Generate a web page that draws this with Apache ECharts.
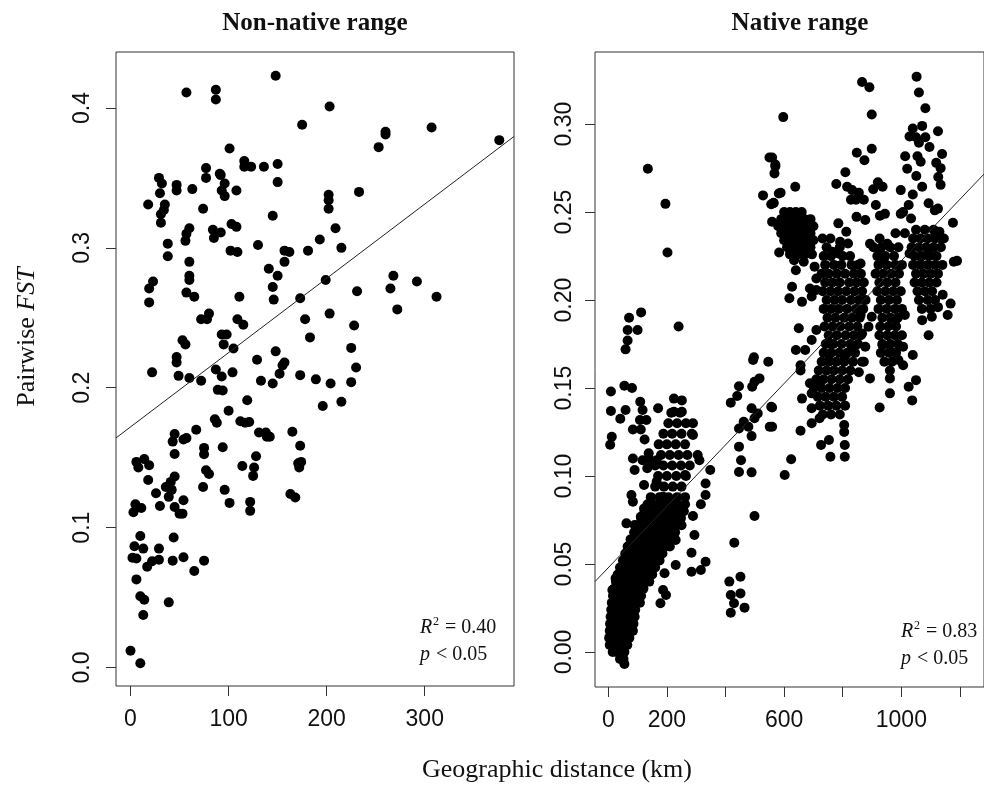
<!DOCTYPE html>
<html>
<head>
<meta charset="utf-8">
<script src="https://cdn.jsdelivr.net/npm/echarts@6/dist/echarts.min.js"></script>
<style>html,body{margin:0;padding:0;background:#fff}#chart{width:984px;height:787px}</style>
</head>
<body>
<div id="chart"></div>
<script>
// ---------- DATA ----------
const panelTitles = ['Non-native range', 'Native range'];
const nonNativeXTicks = [0, 100, 200, 300];
const nonNativeYTicks = [0, 0.1, 0.2, 0.3, 0.4];
const nativeXTicks = [0, 200, 400, 600, 800, 1000, 1200];
const nativeXLabels = [0, 200, 600, 1000];
const nativeYTicks = [0, 0.05, 0.1, 0.15, 0.2, 0.25, 0.3];
const fitNonNative = [0.172, 0.000531];   // intercept, slope
const fitNative = [0.0479, 0.0001745];    // intercept, slope
const statsNonNative = ['0.40', '0.05'];
const statsNative = ['0.83', '0.05'];

const nonNative = [
[148,0.423],[57,0.411],[87,0.413],[87,0.406],[175,0.388],[101,0.371],[116,0.362],[116,0.358],[123,0.358],[136,0.358],
[150,0.360],[150,0.347],[77,0.357],[77,0.350],[91,0.353],[92,0.352],[96,0.346],[93,0.341],[96,0.337],[108,0.341],
[29,0.350],[32,0.346],[30,0.339],[35,0.331],[34,0.327],[31,0.324],[31,0.318],[18,0.331],[47,0.345],[47,0.341],
[63,0.342],[74,0.328],[145,0.323],[103,0.317],[108,0.315],[60,0.314],[57,0.310],[56,0.305],[84,0.313],[85,0.307],
[92,0.311],[130,0.302],[38,0.303],[38,0.294],[102,0.298],[109,0.297],[157,0.298],[162,0.297],[181,0.298],[60,0.290],
[157,0.290],[141,0.285],[150,0.280],[60,0.280],[60,0.277],[23,0.276],[19,0.271],[19,0.261],[145,0.272],[57,0.268],
[65,0.265],[146,0.263],[111,0.265],[173,0.264],[72,0.249],[80,0.253],[78,0.249],[109,0.249],[115,0.245],[178,0.249],
[183,0.236],[53,0.234],[56,0.231],[93,0.238],[98,0.238],[95,0.231],[105,0.228],[47,0.222],[47,0.218],[129,0.220],
[148,0.226],[157,0.218],[155,0.216],[22,0.211],
[203,0.401],[260,0.383],[260,0.381],[253,0.372],[307,0.386],[376,0.377],[202,0.338],[202,0.334],[202,0.328],[233,0.340],
[209,0.314],[193,0.306],[215,0.300],[199,0.277],[231,0.269],[268,0.280],[265,0.271],[292,0.276],[312,0.265],[272,0.256],
[203,0.253],[228,0.2445],[225,0.2285],[230,0.2145],
[49,0.2085],[60,0.207],[72,0.205],[87,0.213],[93,0.208],[104,0.211],[133,0.205],[145,0.203],[152,0.210],[173,0.209],
[89,0.1985],[94,0.198],[119,0.191],[100,0.1835],[86,0.1775],[88,0.175],[112,0.176],[117,0.175],[121,0.1755],[45,0.167],
[43,0.1615],[54,0.163],[57,0.164],[67,0.170],[131,0.168],[138,0.168],[139,0.165],[142,0.165],[165,0.1685],[173,0.1585],
[75,0.157],[75,0.1525],[94,0.1575],[45,0.1527],[128,0.151],[6,0.147],[14,0.149],[19,0.1446],[8,0.143],[114,0.144],
[126,0.143],[125,0.137],[171,0.146],[172,0.143],[77,0.141],[80,0.1384],[18,0.134],[45,0.1365],[41,0.1327],[36,0.129],
[42,0.127],[39,0.122],[26,0.1246],[74,0.129],[96,0.127],[54,0.1196],[45,0.1148],[50,0.110],[53,0.110],[30,0.1155],
[5,0.1167],[3,0.111],[11,0.114],[101,0.1177],[122,0.1184],[122,0.112],[163,0.124],[168,0.1215],[10,0.094],[4,0.0867],
[13,0.085],[2,0.0785],[6,0.078],[44,0.093],[29,0.085],[29,0.077],[22,0.076],[17,0.072],[43,0.0764],[54,0.0788],
[65,0.069],[75,0.0764],[6,0.063],[10,0.051],[14,0.0485],[39,0.0466],[13,0.0375],[0,0.012],[10,0.003],
[189,0.206],[204,0.203],[225,0.204],[196,0.187],[215,0.190],[174,0.147]
];

const nativeSparse = [
[135,0.2746],[195,0.2547],[202,0.227],[71,0.190],[112,0.193],[66,0.183],[100,0.183],[66,0.177],[59,0.172],[240,0.185],
[497,0.1675],[546,0.165],[550,0.281],[570,0.276],[567,0.272],[528,0.2595],[556,0.2545],[564,0.2553],[559,0.2445],[582,0.2606],
[583,0.227],[597,0.304],
[1052,0.327],[866,0.324],[891,0.321],[1060,0.318],[1082,0.309],[899,0.3055],[1039,0.2975],[1028,0.293],[1050,0.2925],[1071,0.299],
[1082,0.2925],[1060,0.2894],[1096,0.287],[1125,0.296],[848,0.2837],[874,0.2795],[899,0.286],[1013,0.2818],[1055,0.2818],[1066,0.2786],
[1020,0.2746],[1139,0.283],[1119,0.278],[1134,0.275],[1126,0.270],[1134,0.2655],[1051,0.2705],[809,0.2727],[778,0.266],[815,0.2644],
[832,0.2625],[855,0.261],[872,0.257],[845,0.257],[920,0.267],[936,0.2644],[904,0.263],[998,0.2625],[1039,0.260],[1071,0.2644],
[828,0.257],[913,0.254],[927,0.248],[944,0.249],[877,0.2455],[847,0.2473],[1006,0.250],[1025,0.254],[1033,0.2464],[998,0.249],
[1093,0.255],[1114,0.251],[1125,0.252],[1176,0.244],[638,0.2644],[588,0.261],[564,0.255],[570,0.277],[559,0.281],
[731,0.235],[758,0.235],[785,0.2436],[812,0.2388],[818,0.2322],[791,0.2331],[764,0.2275],[785,0.2265],[893,0.232],[926,0.235],
[952,0.232],[926,0.2284],[936,0.2237],[980,0.238],[1012,0.238],[1028,0.2265],[1066,0.2246],[1093,0.2284],[1114,0.236],[1130,0.2388],
[1145,0.235],[1179,0.2218],[1190,0.2223],[861,0.2208],
[618,0.201],[627,0.2076],[661,0.199],[694,0.202],[710,0.2057],[688,0.2066],[634,0.2227],[640,0.217],[667,0.2218],[704,0.219],
[710,0.2123],[1093,0.180],[1141,0.203],[1168,0.198],[1158,0.1915],[1125,0.196],[1104,0.1905],[1071,0.1886],[1012,0.1915],[980,0.1886],
[861,0.1915],[899,0.1905],[888,0.1848],[866,0.181],[877,0.1735],[650,0.184],[640,0.1716],[672,0.1716],[656,0.163],[694,0.1773],
[710,0.183],[753,0.1754],[753,0.166],[807,0.1678],[834,0.1716],[936,0.1744],[963,0.1706],[1006,0.1735],[1039,0.1688],[872,0.165],
[9,0.148],[55,0.1513],[81,0.150],[9,0.137],[59,0.1375],[41,0.1326],[12,0.1223],[6.5,0.1178],[109,0.1422],[117,0.1375],
[108,0.1318],[130,0.1318],[170,0.1385],[84,0.1265],[111,0.1265],[124,0.1208],[224,0.144],[251,0.143],[224,0.1365],[251,0.1365],
[84,0.110],[90,0.1034],[117,0.109],[138,0.1129],[143,0.109],[165,0.109],[133,0.1044],[289,0.130],[289,0.1233],[305,0.112],
[311,0.109],[348,0.1034],[262,0.1006],[332,0.0958],[332,0.0892],[316,0.084],[289,0.0773],[294,0.0665],[284,0.0564],[284,0.0456],
[316,0.0466],[332,0.0513],[122,0.0949],[79,0.0892],[84,0.0854],[122,0.0816],[111,0.0769],[62,0.0731],[90,0.0722],[111,0.0727],
[165,0.0968],[187,0.0882],[208,0.0825],[197,0.0712],[230,0.0636],[224,0.0712],[230,0.0494],[192,0.0447],[187,0.0352],[197,0.0324],
[178,0.0277],[46,0.0476],[25,0.0419],[14,0.0352],[55,-0.0068],[46,-0.0017],[413,0.040],[418,0.0324],[451,0.0428],[451,0.0333],
[429,0.0277],[418,0.0223],[465,0.0252],[430,0.0621],[499,0.0773],[446,0.1167],[453,0.109],[446,0.1023],[489,0.1021],[489,0.1227],
[418,0.1417],[446,0.151],[440,0.1455],[446,0.127],[462,0.1308],[478,0.128],[491,0.1507],[499,0.1536],[516,0.1555],[489,0.1385],
[510,0.1356],[499,0.1328],[556,0.1394],[551,0.128],[494,0.166],
[602,0.1006],[624,0.1095],[656,0.1257],[694,0.130],[726,0.1176],[753,0.1205],[758,0.111],[807,0.111],[807,0.1176],[805,0.125],
[805,0.129],[926,0.139],[961,0.147],[961,0.1555],[961,0.160],[1025,0.1507],[1037,0.143],[1050,0.1545],[1006,0.163],[990,0.166],
[893,0.1555],[855,0.159],[866,0.165],[661,0.144],[688,0.1527],[715,0.1536],[694,0.1385],[721,0.1328],[694,0.147],[559,0.139],
[559,0.128],[656,0.160]
];

// dense clusters of the native range, one row per y level: [y, [x, x, ...]]
const nativeDenseRows = [
[-0.004,[40,52]],
[0.000,[15,28,40,55]],
[0.004,[5,15,25,35,45,55,65]],
[0.008,[3,12,22,32,42,52,62,72]],
[0.012,[5,14,24,34,44,54,64,74,84]],
[0.016,[6,16,26,36,46,56,66,76,86]],
[0.020,[8,18,28,38,48,58,68,78,90]],
[0.024,[10,20,30,40,50,60,70,80,92]],
[0.028,[12,22,32,42,52,62,72,84,96,108]],
[0.032,[16,26,36,46,56,66,76,88,100,112]],
[0.036,[20,30,40,50,60,70,82,94,106,120]],
[0.040,[26,36,46,56,66,78,90,102,114,126,140]],
[0.044,[32,42,52,62,74,86,98,110,122,136,150]],
[0.048,[40,50,60,72,84,96,108,120,132,146,160]],
[0.052,[50,62,74,86,98,110,122,134,146,160,175]],
[0.056,[58,70,82,94,106,118,130,142,156,170,185]],
[0.060,[66,78,90,102,114,126,138,152,166,180,196,210]],
[0.064,[76,88,100,112,124,136,150,164,178,192,206,220]],
[0.068,[88,100,112,124,138,152,166,180,196,212,228]],
[0.072,[100,114,128,142,156,170,186,202,218,234,250]],
[0.076,[112,128,144,160,178,196,214,232,248]],
[0.080,[124,140,158,176,196,216,236,258]],
[0.084,[134,152,172,192,214,236,262]],
[0.088,[145,175,205,235,262]],
[0.094,[160,190,220,250]],
[0.100,[170,200,232,265]],
[0.106,[160,188,218,248,278]],
[0.112,[180,210,240,270]],
[0.118,[172,200,230,262]],
[0.124,[188,218,250,285]],
[0.130,[205,235,265]],
[0.136,[215,245]],
[0.250,[600,620,640,660]],
[0.246,[590,610,630,650,670,690]],
[0.242,[580,600,620,640,660,680,700]],
[0.238,[590,610,630,650,670,690]],
[0.234,[600,620,640,660,680,700]],
[0.230,[610,630,650,670,690]],
[0.226,[620,645,670,695]],
[0.230,[745,790]],
[0.225,[735,760,800,825]],
[0.220,[740,770,795,830,852]],
[0.215,[728,752,780,808,838,862]],
[0.210,[740,765,790,822,848,872]],
[0.205,[732,758,784,812,840,866]],
[0.200,[745,772,798,828,855,878]],
[0.195,[735,760,786,815,845,870]],
[0.190,[748,775,805,832,858]],
[0.185,[738,765,792,822,850]],
[0.180,[752,780,810,838,862]],
[0.175,[742,768,796,826,852]],
[0.170,[735,760,788,815,842]],
[0.165,[728,752,778,805,835]],
[0.160,[718,745,770,798,826]],
[0.155,[710,735,762,790,818]],
[0.150,[702,728,755,782,808]],
[0.145,[715,742,770,798]],
[0.140,[722,750,778,808]],
[0.135,[732,760,790]],
[0.230,[905,932,962,990]],
[0.225,[918,945,975]],
[0.220,[922,950,980,1002]],
[0.215,[912,938,965,992]],
[0.210,[925,952,980]],
[0.205,[918,945,972,998]],
[0.200,[930,958,985]],
[0.195,[922,950,978,1002]],
[0.190,[935,962,988]],
[0.185,[928,955,982]],
[0.180,[925,952,978,1002]],
[0.175,[935,962,988]],
[0.170,[930,958,982]],
[0.165,[942,968]],
[0.240,[1050,1080,1110]],
[0.235,[1040,1065,1090,1115,1135]],
[0.230,[1035,1060,1085,1110,1135]],
[0.225,[1045,1070,1095,1120]],
[0.220,[1040,1065,1090,1115,1140]],
[0.215,[1050,1075,1100,1125]],
[0.210,[1045,1070,1095,1120]],
[0.205,[1055,1080,1105]],
[0.200,[1060,1090,1115]],
[0.195,[1070,1100]]
];

const native = nativeSparse.concat(
  nativeDenseRows.flatMap(r => r[1].map(x => [x, r[0]]))
);

// ---------- CHART ----------
const SANS = 'Liberation Sans, Arial, sans-serif';
const SERIF = 'Liberation Serif, Times New Roman, serif';
const ranges = {
  nn: {xmin: -14.8, xmax: 391, ymin: -0.0132, ymax: 0.440},
  na: {xmin: -45.3, xmax: 1282, ymin: -0.0199, ymax: 0.341}
};
function fitLine(fit, r) {
  return [[r.xmin, fit[0] + fit[1] * r.xmin], [r.xmax, fit[0] + fit[1] * r.xmax]];
}
const tickStyle = {show: true, inside: false, length: 10, lineStyle: {color: '#333', width: 1}};
const labelBase = {fontFamily: SANS, fontSize: 23, color: '#111'};

function xAxis(idx, r, ticks, labels) {
  return {
    type: 'value', gridIndex: idx, min: r.xmin, max: r.xmax, position: 'bottom',
    axisLine: {show: false, onZero: false}, splitLine: {show: false},
    axisTick: Object.assign({customValues: ticks}, tickStyle),
    axisLabel: Object.assign({customValues: labels, margin: 22, formatter: v => String(Math.round(v))}, labelBase)
  };
}
function yAxis(idx, r, ticks, dec, margin) {
  return {
    type: 'value', gridIndex: idx, min: r.ymin, max: r.ymax, position: 'left',
    axisLine: {show: false, onZero: false}, splitLine: {show: false},
    axisTick: Object.assign({customValues: ticks}, tickStyle),
    axisLabel: Object.assign({customValues: ticks, rotate: 90, margin: margin,
      formatter: v => Number(v).toFixed(dec)}, labelBase)
  };
}

function statsText(x, y, r2, p) {
  return [
    {type: 'text', left: x, top: y - 12, style: {text: 'R', font: 'italic 20px ' + SERIF, fill: '#111'}},
    {type: 'text', left: x + 13, top: y - 14, style: {text: '2', font: '12px ' + SERIF, fill: '#111'}},
    {type: 'text', left: x + 20, top: y - 12, style: {text: ' = ' + r2, font: '20px ' + SERIF, fill: '#111'}},
    {type: 'text', left: x, top: y + 15, style: {text: 'p', font: 'italic 20px ' + SERIF, fill: '#111'}},
    {type: 'text', left: x + 11, top: y + 15, style: {text: ' < ' + p, font: '20px ' + SERIF, fill: '#111'}}
  ];
}

const chart = echarts.init(document.getElementById('chart'), null, {renderer: 'canvas'});
chart.setOption({
  animation: false,
  backgroundColor: '#fff',
  grid: [
    {left: 116, top: 52, width: 398, height: 634, show: true, borderColor: '#333', borderWidth: 1, backgroundColor: 'transparent', containLabel: false},
    {left: 595, top: 52, width: 410, height: 635, show: true, borderColor: '#333', borderWidth: 1, backgroundColor: 'transparent', containLabel: false}
  ],
  xAxis: [
    xAxis(0, ranges.nn, nonNativeXTicks, nonNativeXTicks),
    xAxis(1, ranges.na, nativeXTicks, nativeXLabels)
  ],
  yAxis: [
    yAxis(0, ranges.nn, nonNativeYTicks, 1, 22),
    yAxis(1, ranges.na, nativeYTicks, 2, 19)
  ],
  series: [
    {type: 'scatter', xAxisIndex: 0, yAxisIndex: 0, data: nonNative, symbol: 'circle', symbolSize: 10,
      itemStyle: {color: '#000', opacity: 1}, silent: true},
    {type: 'scatter', xAxisIndex: 1, yAxisIndex: 1, data: native, symbol: 'circle', symbolSize: 10,
      itemStyle: {color: '#000', opacity: 1}, silent: true},
    {type: 'line', xAxisIndex: 0, yAxisIndex: 0, data: fitLine(fitNonNative, ranges.nn), symbol: 'none',
      lineStyle: {color: '#222', width: 1}, z: 5, silent: true},
    {type: 'line', xAxisIndex: 1, yAxisIndex: 1, data: fitLine(fitNative, ranges.na), symbol: 'none',
      lineStyle: {color: '#222', width: 1}, z: 5, silent: true}
  ],
  graphic: [
    {type: 'text', x: 315, y: 24, style: {text: panelTitles[0], font: 'bold 25px ' + SERIF, fill: '#111', align: 'center', verticalAlign: 'middle'}},
    {type: 'text', x: 800, y: 24, style: {text: panelTitles[1], font: 'bold 25px ' + SERIF, fill: '#111', align: 'center', verticalAlign: 'middle'}},
    {type: 'text', x: 557, y: 770, style: {text: 'Geographic distance (km)', font: '26px ' + SERIF, fill: '#111', align: 'center', verticalAlign: 'middle'}},
    {type: 'text', x: 27, y: 337, rotation: Math.PI / 2,
      style: {text: '{a|Pairwise }{b|FST}', align: 'center', verticalAlign: 'middle', fill: '#111',
        rich: {a: {font: '26px ' + SERIF, fill: '#111'}, b: {font: 'italic 26px ' + SERIF, fill: '#111'}}}}
  ].concat(statsText(420, 630, statsNonNative[0], statsNonNative[1]))
   .concat(statsText(901, 634, statsNative[0], statsNative[1]))
});
</script>
</body>
</html>
